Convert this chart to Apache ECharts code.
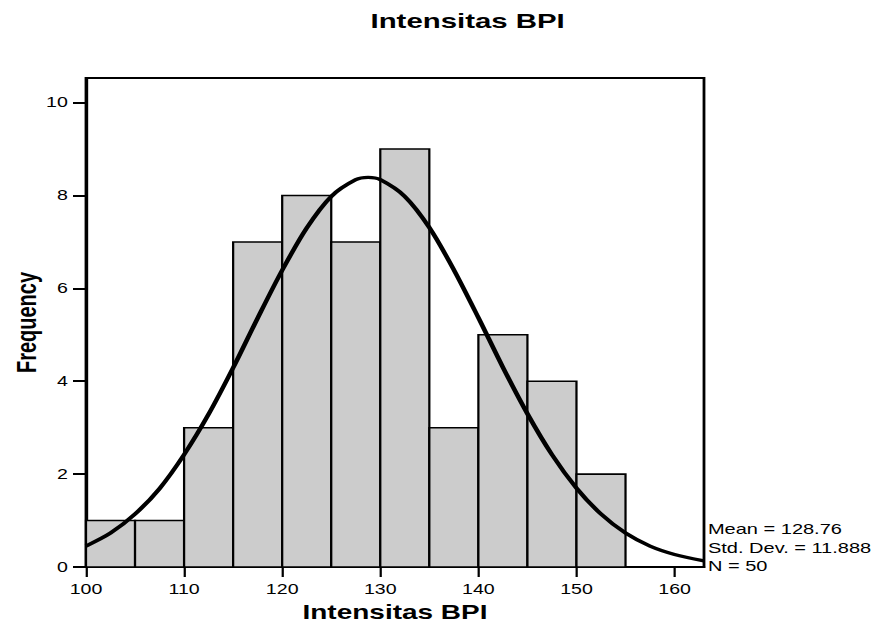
<!DOCTYPE html>
<html>
<head>
<meta charset="utf-8">
<script src="https://cdn.jsdelivr.net/npm/echarts@6/dist/echarts.min.js"></script>
<style>
  html, body { margin: 0; padding: 0; background: #ffffff; overflow: hidden; }
  #chart { width: 628px; height: 625px; transform: scaleX(1.39968); transform-origin: 0 0; }
</style>
</head>
<body>
<div id="chart"></div>
<script>
// ---- data ----
const binStarts = [100, 105, 110, 115, 120, 125, 130, 135, 140, 145, 150];
const binWidth = 5;
const frequencies = [1, 1, 3, 7, 8, 7, 9, 3, 5, 4, 2];

const curveX = [100, 102.5, 105, 107.5, 110, 112.5, 115, 117.5, 120, 122.5, 125, 127.5, 128.76, 130, 132.5, 135, 137.5, 140, 142.5, 145, 147.5, 150, 152.5, 155, 157.5, 160, 163];
const curveY = [0.45, 0.73, 1.14, 1.69, 2.42, 3.29, 4.29, 5.36, 6.39, 7.30, 7.98, 8.34, 8.39, 8.34, 7.98, 7.31, 6.40, 5.37, 4.30, 3.30, 2.42, 1.70, 1.14, 0.73, 0.45, 0.27, 0.13];

const xTicks = [100, 110, 120, 130, 140, 150, 160];
const yTicks = [0, 2, 4, 6, 8, 10];

const titleText = 'Intensitas BPI';
const xAxisName = 'Intensitas BPI';
const yAxisName = 'Frequency';
const statsLines = ['Mean = 128.76', 'Std. Dev. = 11.888', 'N = 50'];

// ---- chart ----
const FONT = '"Liberation Sans", Arial, Helvetica, sans-serif';
const chart = echarts.init(document.getElementById('chart'), null, { renderer: 'svg' });

const barData = binStarts.map((s, i) => [s, s + binWidth, frequencies[i]]);
const curveData = curveX.map((x, i) => [x, curveY[i]]);

chart.setOption({
  animation: false,
  backgroundColor: '#ffffff',
  title: {
    text: titleText,
    left: 259.7,
    top: 5,
    textStyle: { fontFamily: FONT, fontWeight: 'bold', fontSize: 21, color: '#000' }
  },
  grid: {
    left: 61.44, right: 125.03, top: 78, bottom: 58,
    outerBoundsMode: 'none', containLabel: false,
    show: true, borderColor: '#000', borderWidth: 2, backgroundColor: '#fff'
  },
  xAxis: {
    type: 'value', min: 100, max: 163, interval: 10,
    name: xAxisName, nameLocation: 'middle', nameGap: 35, nameMoveOverlap: false,
    nameTextStyle: { fontFamily: FONT, fontWeight: 'bold', fontSize: 20, color: '#000' },
    axisLine: { show: true, lineStyle: { color: '#000', width: 2 } },
    axisTick: { show: true, length: 10, lineStyle: { color: '#000', width: 1.6 }, customValues: xTicks },
    axisLabel: { fontFamily: FONT, fontSize: 14, color: '#000', margin: 15, customValues: xTicks },
    splitLine: { show: false }
  },
  yAxis: {
    type: 'value', min: 0, max: 10.53, interval: 2,
    name: yAxisName, nameLocation: 'middle', nameGap: 33, nameMoveOverlap: false,
    nameTextStyle: { fontFamily: FONT, fontWeight: 'bold', fontSize: 20, color: '#000' },
    axisLine: { show: true, lineStyle: { color: '#000', width: 2 } },
    axisTick: { show: true, length: 9.3, lineStyle: { color: '#000', width: 2 }, customValues: yTicks },
    axisLabel: { fontFamily: FONT, fontSize: 14, color: '#000', margin: 13, customValues: yTicks },
    splitLine: { show: false }
  },
  graphic: [{
    type: 'text',
    left: 505.8,
    top: 520,
    style: {
      text: statsLines.join('\n'),
      font: '14.3px ' + FONT,
      fill: '#000',
      lineHeight: 18.5
    }
  }],
  series: [
    {
      type: 'custom',
      data: barData,
      encode: { x: [0, 1], y: 2 },
      renderItem: function (params, api) {
        const p0 = api.coord([api.value(0), 0]);
        const p1 = api.coord([api.value(1), api.value(2)]);
        return {
          type: 'rect',
          shape: { x: p0[0], y: p1[1], width: p1[0] - p0[0], height: p0[1] - p1[1] },
          style: { fill: '#cccccc', stroke: '#000', lineWidth: 1.6 }
        };
      },
      z: 2
    },
    {
      type: 'line',
      data: curveData,
      smooth: 0.3,
      showSymbol: false,
      symbol: 'none',
      lineStyle: { color: '#000', width: 3.4 },
      z: 3
    }
  ]
});
</script>
</body>
</html>
